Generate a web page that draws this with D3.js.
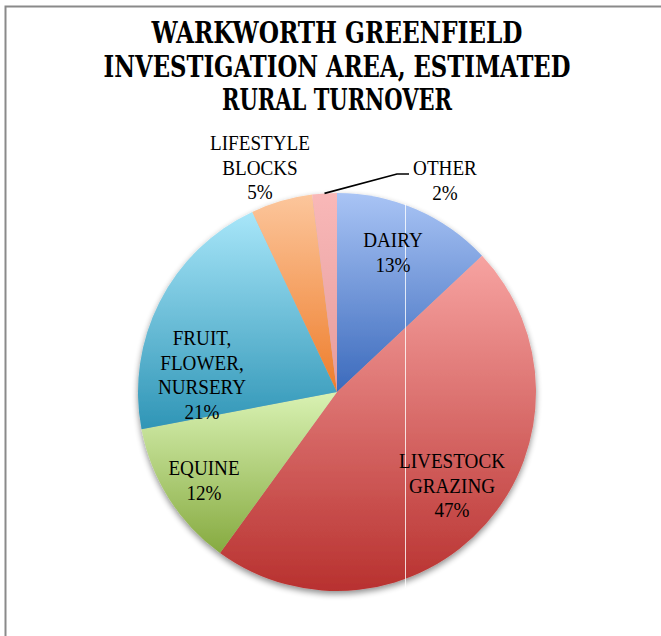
<!DOCTYPE html>
<html><head><meta charset="utf-8">
<script src="https://cdn.jsdelivr.net/npm/d3@7"></script>
<style>body{margin:0;background:#fff}svg{display:block}</style>
</head><body>
<script>
const categories = ["DAIRY","LIVESTOCK GRAZING","EQUINE","FRUIT, FLOWER, NURSERY","LIFESTYLE BLOCKS","OTHER"];
const values = [13,47,12,21,5,2];
const labelLines = [["DAIRY"],["LIVESTOCK","GRAZING"],["EQUINE"],["FRUIT,","FLOWER,","NURSERY"],["LIFESTYLE","BLOCKS"],["OTHER"]];
const colorsTop = ["#a9c4f5","#f7a3a1","#d9f2b3","#a8e6f9","#fcc69c","#f9b8b8"];
const colorsBottom = ["#3b6abc","#b8312f","#86aa40","#2f95b6","#ee7d2b","#e59c9c"];
const titleLines = ["WARKWORTH GREENFIELD","INVESTIGATION AREA, ESTIMATED","RURAL TURNOVER"];

const W=661,H=636, cx=337, cy=392, r=199;
const svg=d3.select("body").append("svg").attr("width",W).attr("height",H);
const defs=svg.append("defs");
const f=defs.append("filter").attr("id","sh").attr("x","-20%").attr("y","-20%").attr("width","140%").attr("height","140%");
f.append("feGaussianBlur").attr("in","SourceAlpha").attr("stdDeviation",3);
f.append("feOffset").attr("dx",0).attr("dy",3).attr("result","b");
f.append("feComponentTransfer").append("feFuncA").attr("type","linear").attr("slope",0.45);
const m=f.append("feMerge"); m.append("feMergeNode"); m.append("feMergeNode").attr("in","SourceGraphic");

// frame
svg.append("path").attr("d",`M5.5,${H} L5.5,6.5 L${W},6.5`).attr("fill","none").attr("stroke","#8a8a8a").attr("stroke-width",2);

// title
const titleW=[371,467,230], titleY=[43,77,110];
const tg=svg.append("g");
titleLines.forEach((t,i)=>{
  const tx=tg.append("text").attr("text-anchor","middle")
    .style("font-family","'DejaVu Serif Condensed','DejaVu Serif',serif").style("font-weight","bold").style("font-size","30px")
    .text(t);
  const w=tx.node().getComputedTextLength();
  tx.attr("transform",`translate(337,${titleY[i]}) scale(${titleW[i]/w},1)`);
});

const pie=d3.pie().sort(null).value(d=>d)(values);
const arc=d3.arc().innerRadius(0).outerRadius(r);
pie.forEach((p,i)=>{
  const g=defs.append("linearGradient").attr("id","g"+i)
    .attr("x1",0).attr("y1",0).attr("x2",0).attr("y2",1);
  g.append("stop").attr("offset","0").attr("stop-color",colorsTop[i]);
  g.append("stop").attr("offset","1").attr("stop-color",colorsBottom[i]);
});
const pg=svg.append("g").attr("transform",`translate(${cx},${cy})`).attr("filter","url(#sh)");
pg.selectAll("path").data(pie).join("path").attr("d",arc).attr("fill",(d,i)=>`url(#g${i})`);
// thin artifact line
svg.append("line").attr("x1",405.5).attr("x2",405.5).attr("y1",204).attr("y2",588).attr("stroke","#fff").attr("stroke-opacity",0.8).attr("stroke-width",1);

// labels
const labelPos=[[393,247],[452,468],[204,475],[202,345],[260,150],[445,175]];
const lt=svg.append("g").style("font-family","'Liberation Serif','DejaVu Serif',serif").style("font-size","22px").attr("fill","#000");
labelPos.forEach((pos,i)=>{
  const lines=labelLines[i].concat([values[i]+"%"]);
  lt.append("text").attr("text-anchor","middle").attr("transform",`translate(${pos[0]},${pos[1]}) scale(0.87,1)`)
    .selectAll("tspan").data(lines).join("tspan").attr("x",0).attr("y",(d,j)=>j*24.7).text(d=>d);
});
// leader line for OTHER
const o=pie[5]; const a=(o.startAngle+o.endAngle)/2;
const px=cx+Math.sin(a)*r, py=cy-Math.cos(a)*r;
svg.append("polyline").attr("points",`${px},${py} 397,174 409,174`).attr("fill","none").attr("stroke","#000").attr("stroke-width",1.6);
</script>
</body></html>
